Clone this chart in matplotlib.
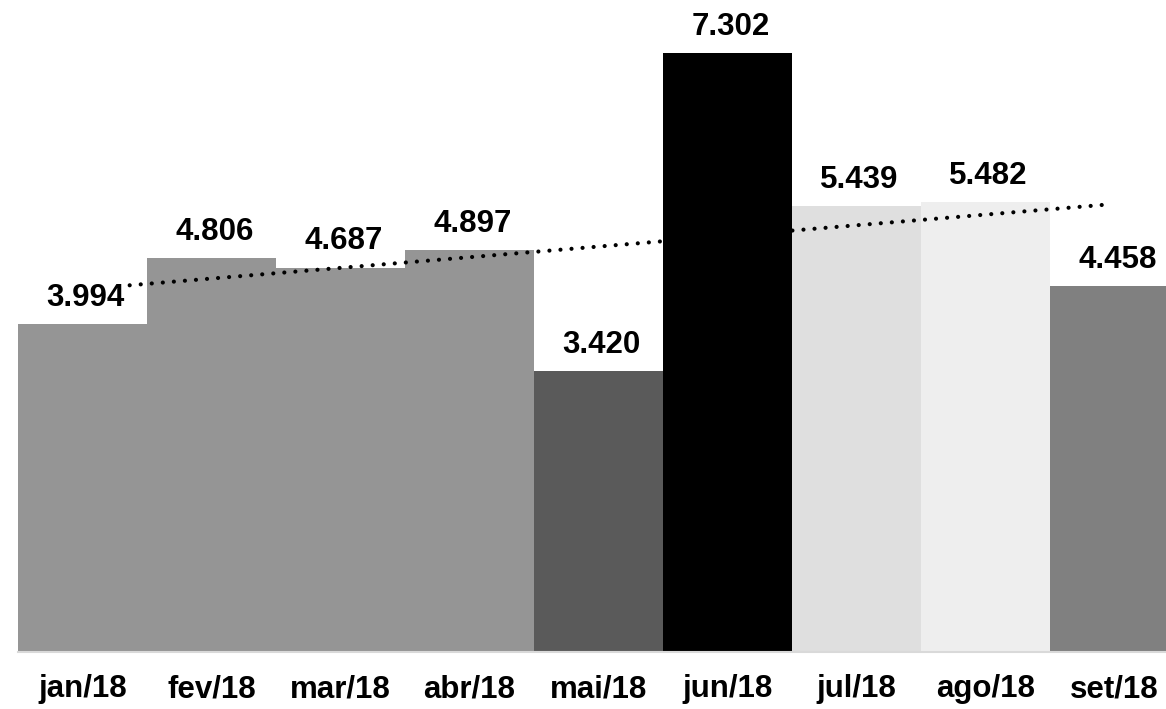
import matplotlib
matplotlib.use("Agg")
import matplotlib.pyplot as plt
import numpy as np

categories = ["jan/18", "fev/18", "mar/18", "abr/18", "mai/18", "jun/18", "jul/18", "ago/18", "set/18"]
values = [3.994, 4.806, 4.687, 4.897, 3.420, 7.302, 5.439, 5.482, 4.458]
labels = ["3.994", "4.806", "4.687", "4.897", "3.420", "7.302", "5.439", "5.482", "4.458"]
colors = ["#959595", "#959595", "#959595", "#959595", "#5a5a5a", "#000000", "#dfdfdf", "#eeeeee", "#808080"]

plt.rcParams['font.family'] = ['Liberation Sans', 'DejaVu Sans']

W, H = 1166, 709
fig = plt.figure(figsize=(W / 100, H / 100), dpi=100)
ax = fig.add_axes([18 / W, (709 - 652) / H, 1161 / W, 648 / H])

x = np.arange(len(categories))
ax.bar(x, values, width=1.0, color=colors, zorder=2)

# linear trendline (least squares)
slope, intercept = np.polyfit(x, values, 1)
tx = np.array([0.28, 7.93])
ax.plot(tx, slope * tx + intercept, color="black", lw=3.0,
        linestyle=(0, (0.01, 2.65)), dash_capstyle="round", zorder=3)

for xi, v, lab in zip(x, values, labels):
    ax.annotate(lab, (xi, v), xytext=(2, 13), textcoords="offset points",
                ha="center", va="baseline", fontsize=22.5, fontweight="bold",
                color="black", zorder=4)

ax.set_xlim(-0.5, 8.5)
ax.set_ylim(0, 7.9)
ax.set_xticks(x)
ax.set_xticklabels(categories, fontsize=22.5, fontweight="bold")
ax.tick_params(axis="x", length=0, pad=16)
ax.set_yticks([])
for s in ["top", "right", "left"]:
    ax.spines[s].set_visible(False)
ax.spines["bottom"].set_color("#d9d9d9")
ax.spines["bottom"].set_linewidth(1.5)
ax.spines["bottom"].set_zorder(5)

fig.savefig("out.png", dpi=100)
